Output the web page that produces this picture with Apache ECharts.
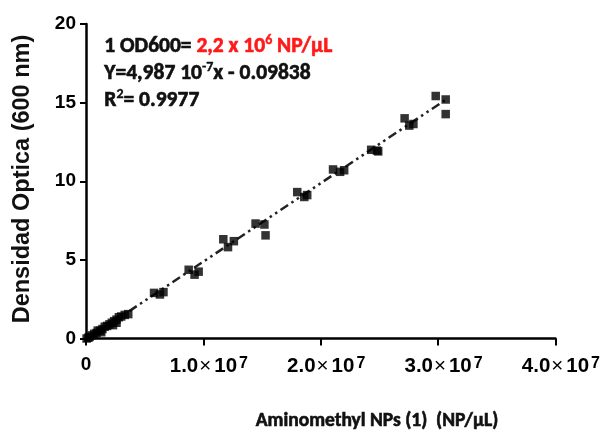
<!DOCTYPE html>
<html>
<head>
<meta charset="utf-8">
<script src="https://cdn.jsdelivr.net/npm/echarts@6/dist/echarts.min.js"></script>
<style>html,body{margin:0;padding:0;background:#fff}#c{width:603px;height:444px}</style>
</head>
<body>
<div id="c"></div>
<script>
// Measured points: concentration (NP/µL) and optical density (600 nm)
const concentration = [
  0.05e6, 0.2e6, 0.3e6, 0.5e6, 0.7e6, 0.9e6, 1.0e6, 1.2e6, 1.3e6, 1.4e6, 1.6e6, 1.8e6,
  2.0e6, 2.2e6, 2.3e6, 2.4e6, 2.6e6, 2.6e6, 2.8e6, 3.0e6, 3.3e6, 3.6e6,
  5.8e6, 6.3e6, 6.6e6,
  8.75e6, 9.25e6, 9.6e6,
  11.7e6, 12.1e6, 12.6e6,
  14.45e6, 15.2e6, 15.3e6,
  18.0e6, 18.6e6, 18.85e6,
  21.05e6, 21.65e6, 22.0e6,
  24.3e6, 24.9e6, 24.8e6,
  27.15e6, 27.55e6, 27.9e6,
  29.8e6, 30.65e6, 30.65e6
];
const density = [
  0.0, 0.05, 0.1, 0.2, 0.3, 0.35, 0.5, 0.5, 0.4, 0.6, 0.75, 0.8,
  0.9, 1.0, 0.85, 1.1, 1.2, 1.0, 1.35, 1.4, 1.5, 1.55,
  2.9, 2.8, 2.95,
  4.37, 4.06, 4.25,
  6.31, 5.81, 6.19,
  7.31, 7.25, 6.56,
  9.31, 9.0, 9.12,
  10.75, 10.6, 10.7,
  12.0, 11.9, 11.95,
  14.0, 13.54, 13.64,
  15.42, 15.2, 14.27
];
// Fitted line endpoints (Y = 4,987e-7 x - 0.09838)
const fitX = [0, 3.07e7];
const fitY = [-0.098, 15.21];
const xTicks = ['0', '1.0', '2.0', '3.0', '4.0'];
const yTicks = ['0', '5', '10', '15', '20'];

const chart = echarts.init(document.getElementById('c'), null, {renderer: 'canvas'});
const pts = concentration.map((x, i) => [x, density[i]]);
const fit = fitX.map((x, i) => [x, fitY[i]]);
const bold = 'bold';
const labFont = 'Liberation Sans';
const calFont = 'Carlito';

chart.setOption({
  animation: false,
  backgroundColor: '#fff',
  grid: {left: 86, right: 45, top: 24, bottom: 105.5},
  xAxis: {
    type: 'value', min: 0, max: 4e7, interval: 1e7,
    splitLine: {show: false},
    axisLine: {show: true, onZero: false, lineStyle: {color: '#000', width: 2.5}},
    axisTick: {show: true, length: 7, lineStyle: {color: '#000', width: 2}},
    axisLabel: {
      margin: 17, color: '#000',
      formatter: function (v) {
        const i = Math.round(v / 1e7);
        if (i === 0) return xTicks[0];
        return '{sp|}{b|' + xTicks[i] + '}{x|×}{t|10}{sup|7}';
      },
      fontFamily: labFont, fontWeight: bold, fontSize: 19,
      rich: {
        sp: {width: 11, fontSize: 19},
        b: {fontFamily: labFont, fontWeight: bold, fontSize: 20.5, color: '#000'},
        x: {fontFamily: labFont, fontWeight: 'normal', fontSize: 20.5, color: '#000', padding: [0, 1, 0, 1]},
        t: {fontFamily: labFont, fontWeight: bold, fontSize: 20.5, color: '#000', padding: [0, 1, 0, 2]},
        sup: {fontFamily: labFont, fontWeight: bold, fontSize: 16, color: '#000', verticalAlign: 'top', padding: [0, 0, 4, 1]}
      }
    }
  },
  yAxis: {
    type: 'value', min: 0, max: 20, interval: 5,
    splitLine: {show: false},
    axisLine: {show: true, onZero: false, lineStyle: {color: '#000', width: 2.5}},
    axisTick: {show: true, length: 6, lineStyle: {color: '#000', width: 2}},
    axisLabel: {
      margin: 10, color: '#000', fontFamily: labFont, fontWeight: bold, fontSize: 19,
      formatter: function (v) { return yTicks[Math.round(v / 5)]; }
    }
  },
  series: [
    {
      type: 'line', data: fit, showSymbol: false, symbol: 'none', clip: false,
      lineStyle: {color: '#222', width: 2.5, type: [9, 4, 2.5, 4, 2.5, 4]}, z: 2
    },
    {
      type: 'scatter', data: pts, symbol: 'rect', symbolSize: 8.5, clip: false,
      itemStyle: {color: '#000'}, z: 3
    }
  ],
  graphic: [
    {
      type: 'text', left: 104, top: 33,
      style: {
        text: '{k|1 OD600= }{r|2,2 x 10}{rs|6}{r| NP/µL}\n{k|Y=4,987 10}{ks|-7}{k|x - 0.09838}\n{k|R}{ks|2}{k|= 0.9977}',
        rich: {
          k: {fontFamily: calFont, fontWeight: bold, fontSize: 21.5, fill: '#111', stroke: '#111', lineWidth: 0.6, lineHeight: 27},
          r: {fontFamily: calFont, fontWeight: bold, fontSize: 21.5, fill: '#ff1a1a', stroke: '#ff1a1a', lineWidth: 0.6, lineHeight: 27},
          rs: {fontFamily: calFont, fontWeight: bold, fontSize: 14, fill: '#ff1a1a', stroke: '#ff1a1a', lineWidth: 0.4, lineHeight: 27, verticalAlign: 'top', padding: [0, 0, 9, 0]},
          ks: {fontFamily: calFont, fontWeight: bold, fontSize: 14, fill: '#111', stroke: '#111', lineWidth: 0.4, lineHeight: 27, verticalAlign: 'top', padding: [0, 0, 9, 0]}
        }
      }
    },
    {
      type: 'text', x: 377, y: 421,
      style: {
        text: 'Aminomethyl NPs (1)  (NP/µL)', fill: '#111', stroke: '#111', lineWidth: 0.6,
        fontFamily: calFont, fontWeight: bold, fontSize: 19.5,
        align: 'center', verticalAlign: 'middle'
      }
    },
    {
      type: 'text', x: 23, y: 179, rotation: Math.PI / 2,
      style: {
        text: 'Densidad Optica (600 nm)', fill: '#111',
        fontFamily: labFont, fontWeight: bold, fontSize: 23.5,
        align: 'center', verticalAlign: 'middle'
      }
    }
  ]
});
</script>
</body>
</html>
